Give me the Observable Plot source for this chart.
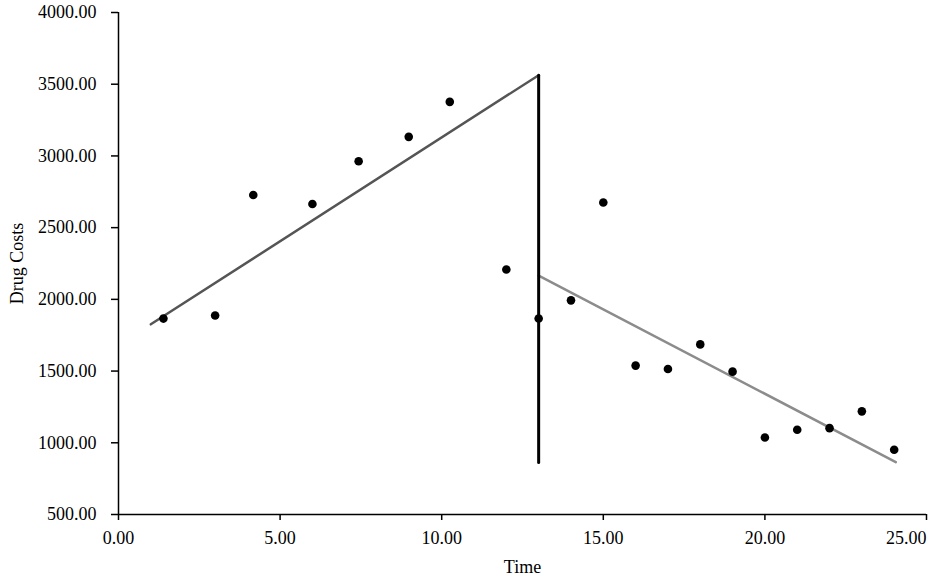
<!DOCTYPE html>
<html>
<head>
<meta charset="utf-8">
<script src="https://cdn.jsdelivr.net/npm/d3@7"></script>
<script src="https://cdn.jsdelivr.net/npm/@observablehq/plot@0.6"></script>
<style>
  html, body { margin: 0; padding: 0; background: #fff; }
  #chart svg { display: block; }
</style>
</head>
<body>
<div id="chart"></div>
<script>
// Observed data
const times = [1.39, 2.99, 4.17, 6.0, 7.43, 8.98, 10.25, 12, 13, 14, 15, 16, 17, 18, 19, 20, 21, 22, 23, 24];
const costs = [1866, 1887, 2728, 2665, 2963, 3133, 3377, 2208, 1866, 1993, 2675, 1538, 1514, 1686, 1496, 1037, 1091, 1102, 1219, 951];

// Fitted segments
const preTime = [1.0, 13.0];
const preCost = [1826, 3563];
const postTime = [13.0, 24.05];
const postCost = [2166, 865];
const interruptTime = [13, 13];
const interruptCost = [3563, 863];

// Axis ticks
const xTicks = [0, 5, 10, 15, 20, 25];
const yTicks = [500, 1000, 1500, 2000, 2500, 3000, 3500, 4000];

const points = times.map((t, i) => ({t, c: costs[i]}));
const pre = preTime.map((t, i) => ({t, c: preCost[i]}));
const post = postTime.map((t, i) => ({t, c: postCost[i]}));
const inter = interruptTime.map((t, i) => ({t, c: interruptCost[i]}));

const xMax = xTicks[xTicks.length - 1];
const fmt = d => d.toFixed(2);

const chart = Plot.plot({
  width: 935,
  height: 576,
  marginLeft: 118,
  marginRight: 9,
  marginTop: 12,
  marginBottom: 62,
  style: {fontFamily: "'Liberation Serif', 'Times New Roman', serif", fontSize: "18px", color: "#000", background: "#fff"},
  x: {domain: [0, 25]},
  y: {domain: [500, 4000]},
  marks: [
    Plot.axisX({ticks: xTicks, tickFormat: d => d === xMax ? "" : fmt(d), tickSize: 6, tickPadding: 11, fontSize: 18, label: "Time", labelAnchor: "center", labelArrow: "none", labelOffset: 58, stroke: "#000", strokeWidth: 1.5}),
    Plot.axisX({ticks: [xMax], tickFormat: fmt, tickSize: 0, tickPadding: 17, fontSize: 18, textAnchor: "end", label: null}),
    Plot.axisY({ticks: yTicks, tickFormat: fmt, tickSize: 7, tickPadding: 15, fontSize: 18, label: "Drug Costs", labelAnchor: "center", labelArrow: "none", labelOffset: 108, stroke: "#000", strokeWidth: 1.5}),
    Plot.ruleY([500], {stroke: "#000", strokeWidth: 1.5}),
    Plot.ruleX([0], {stroke: "#000", strokeWidth: 1.5}),
    Plot.line(pre, {x: "t", y: "c", stroke: "#555555", strokeWidth: 2.5}),
    Plot.line(post, {x: "t", y: "c", stroke: "#8c8c8c", strokeWidth: 2.5}),
    Plot.line(inter, {x: "t", y: "c", stroke: "#000", strokeWidth: 3}),
    Plot.dot(points, {x: "t", y: "c", r: 4.3, fill: "#000", stroke: "none"})
  ]
});
document.getElementById("chart").appendChild(chart);
</script>
</body>
</html>
